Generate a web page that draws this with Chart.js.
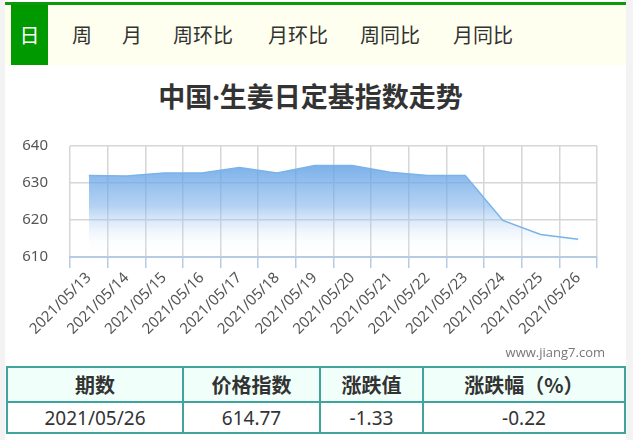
<!DOCTYPE html>
<html>
<head>
<meta charset="utf-8">
<script src="https://cdn.jsdelivr.net/npm/chart.js@4"></script>
<style>
  body { margin: 0; background: #f3f3f3; font-family: "Noto Sans CJK SC", "Noto Sans", sans-serif; }
  #page { position: absolute; left: 5px; top: 0; width: 621px; height: 440px; background: #fff; }
  #topline { position: absolute; left: 0; top: 2px; width: 621px; height: 3px; background: #0a9a0a; }
  #tabs { position: absolute; left: 0; top: 5px; width: 621px; height: 60px; background: #fffff0; }
  .tab { position: absolute; top: 0; height: 60px; line-height: 60px; font-size: 20px; color: #333; }
  .tab.on { background: #009900; color: #fff; width: 37px; text-align: center; }
  #title { position: absolute; left: 0; top: 76px; width: 611px; text-align: center; font-size: 27px; font-weight: bold; color: #333; }
  #title .dot { font-family: "Open Sans", sans-serif; }
  #wrap { position: absolute; left: 0; top: 115px; width: 621px; height: 235px; }
  #mark { position: absolute; right: 21px; top: 343px; font-size: 13px; color: #777; font-family: "Open Sans", sans-serif; }
  table { position: absolute; left: 1px; top: 366px; width: 620px; border-collapse: collapse; }
  td, th { border: 2px solid #3fa39e; text-align: center; color: #333; }
  th { background: #f0fff9; height: 31px; font-size: 20px; }
  td { height: 27px; font-size: 19px; font-weight: normal; font-family: "Noto Sans", sans-serif; }
</style>
</head>
<body>
<div id="page">
  <div id="topline"></div>
  <div id="tabs">
    <div class="tab on" style="left:6px">日</div>
    <div class="tab" style="left:67px">周</div>
    <div class="tab" style="left:117px">月</div>
    <div class="tab" style="left:168px">周环比</div>
    <div class="tab" style="left:263px">月环比</div>
    <div class="tab" style="left:355px">周同比</div>
    <div class="tab" style="left:448px">月同比</div>
  </div>
  <div id="title">中国<span class="dot">·</span>生姜日定基指数走势</div>
  <div id="wrap"><canvas id="indexChart"></canvas></div>
  <div id="mark">www.jiang7.com</div>
  <table>
    <tr><th style="width:172px">期数</th><th style="width:133px">价格指数</th><th style="width:99px">涨跌值</th><th>涨跌幅（%）</th></tr>
    <tr><td>2021/05/26</td><td>614.77</td><td>-1.33</td><td>-0.22</td></tr>
  </table>
</div>
<script>
const dates = ['2021/05/13', '2021/05/14', '2021/05/15', '2021/05/16', '2021/05/17', '2021/05/18', '2021/05/19',
  '2021/05/20', '2021/05/21', '2021/05/22', '2021/05/23', '2021/05/24', '2021/05/25', '2021/05/26']
const indexValues = [632.0, 631.9, 632.7, 632.7, 634.2, 632.7, 634.7, 634.7, 632.9, 632.0, 632.0, 619.9, 616.1, 614.77]
const yTicks = [610, 620, 630, 640]

const fillGradient = (context) => {
  const area = context.chart.chartArea
  if (!area) return 'rgba(100,160,230,0.8)'
  const g = context.chart.ctx.createLinearGradient(0, area.top + 15, 0, area.bottom - 4)
  g.addColorStop(0, 'rgba(92,158,228,0.85)')
  g.addColorStop(0.5, 'rgba(120,174,234,0.55)')
  g.addColorStop(1, 'rgba(255,255,255,0)')
  return g
}

new Chart('indexChart', {
  type: 'line',
  data: {
    labels: dates,
    datasets: [{
      data: indexValues,
      borderColor: '#7ab3ea',
      borderWidth: 1.5,
      backgroundColor: fillGradient,
      fill: 'start',
      pointRadius: 0,
      tension: 0
    }]
  },
  options: {
    responsive: true,
    maintainAspectRatio: false,
    animation: false,
    layout: { padding: { left: 0, right: 29, top: 10, bottom: 0 } },
    plugins: { legend: { display: false }, tooltip: { enabled: false } },
    scales: {
      x: {
        offset: true,
        grid: { color: '#d6d6d6', lineWidth: 1.5, tickColor: '#b7cbe3', tickLength: 11, offset: true },
        border: { color: '#b7cbe3', width: 2 },
        ticks: { color: '#555', font: { size: 15, family: 'Noto Sans' }, minRotation: 45, maxRotation: 45, padding: 1, autoSkip: false },
        afterFit: (scale) => { scale.height = 93 }
      },
      y: {
        min: 610,
        max: 640,
        afterBuildTicks: (scale) => { scale.ticks = yTicks.map(v => ({ value: v })) },
        grid: { color: '#d6d6d6', lineWidth: 1.5, drawTicks: false },
        border: { display: false },
        ticks: { color: '#555', font: { size: 15, family: 'Noto Sans' }, padding: 22 },
        afterFit: (scale) => { scale.width = 65 }
      }
    }
  }
})
</script>
</body>
</html>
